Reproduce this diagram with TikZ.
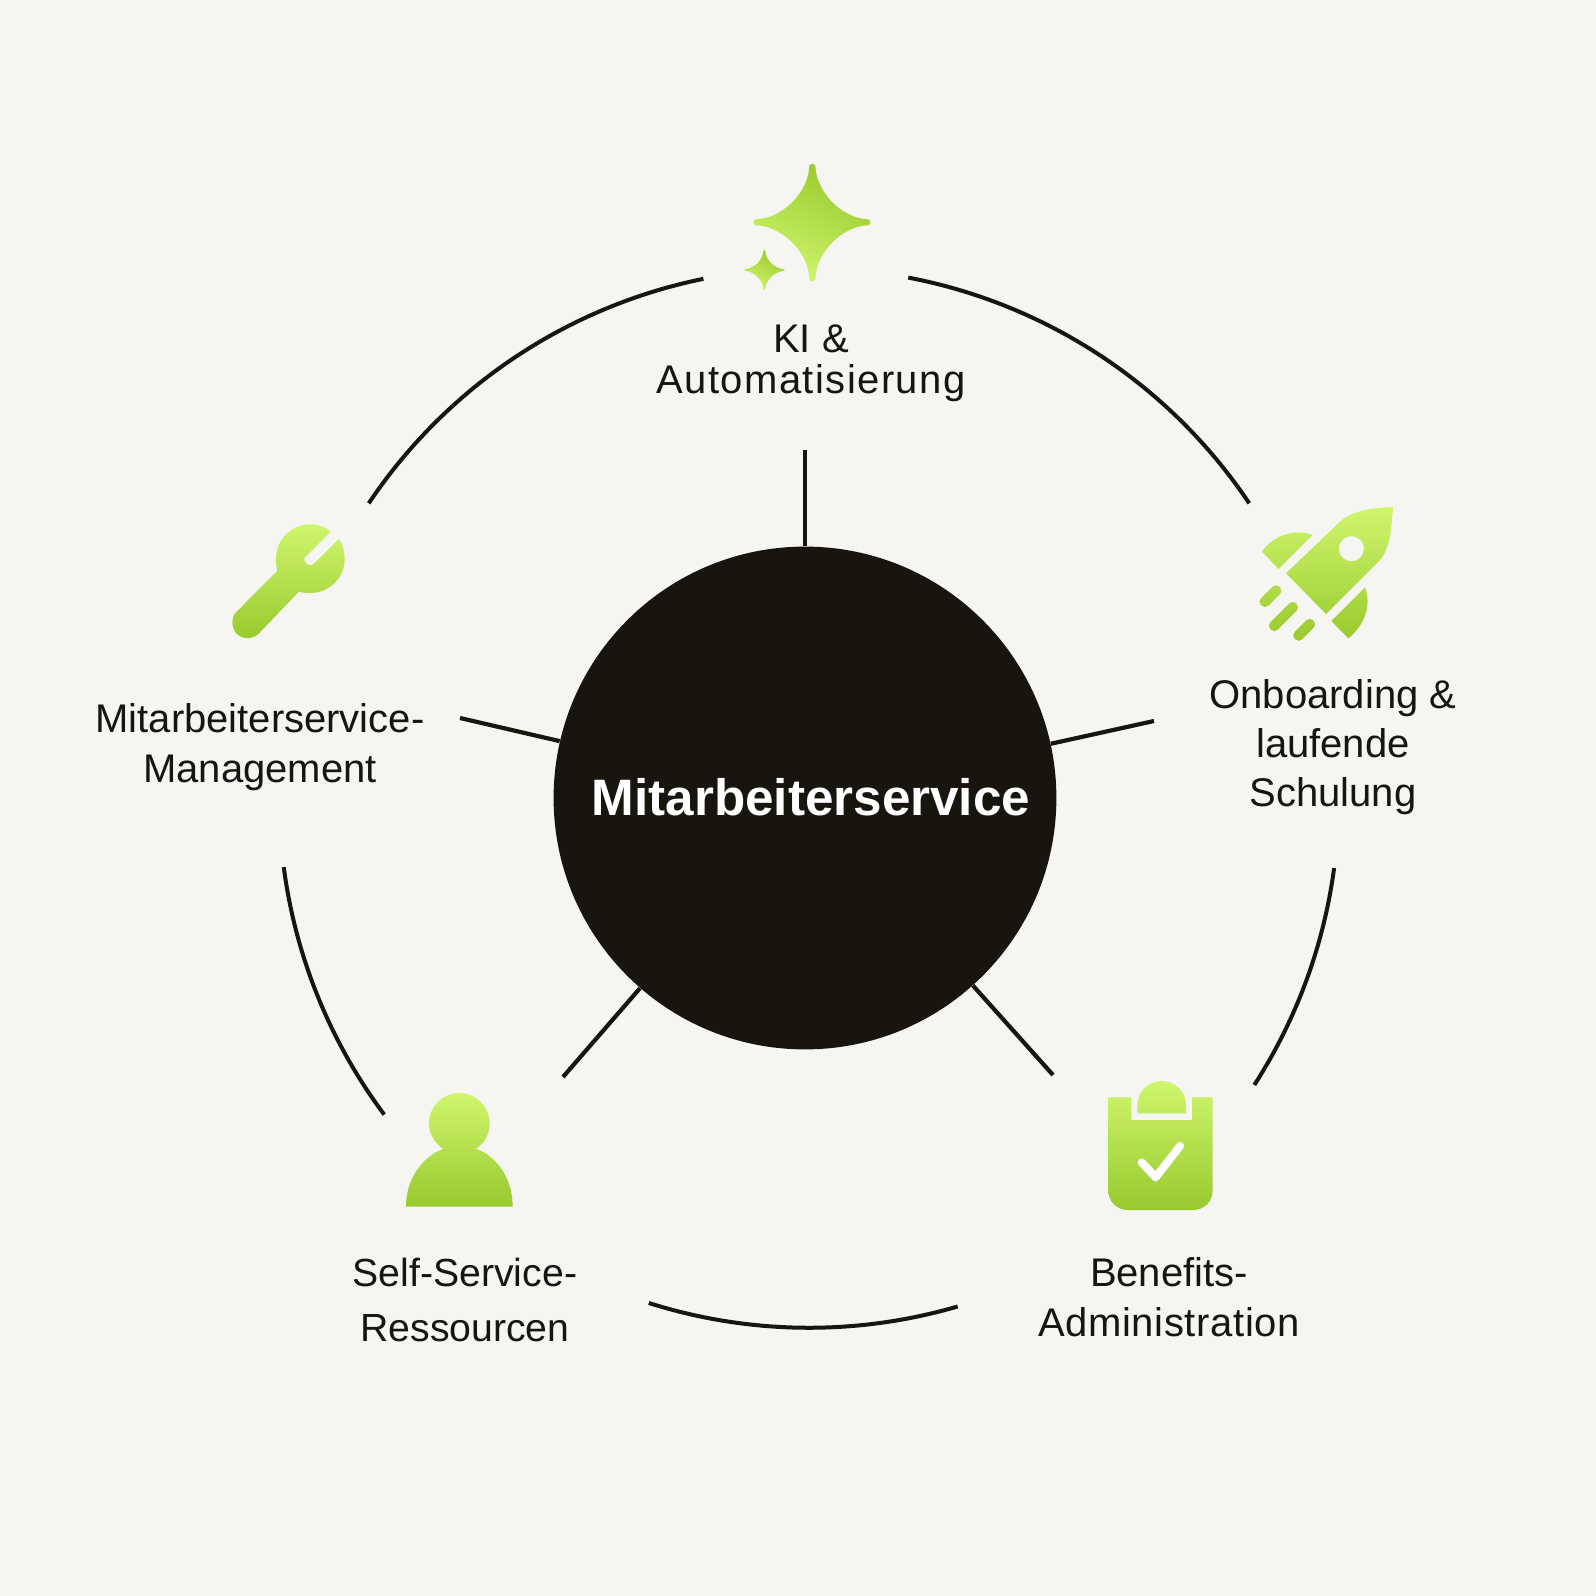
\documentclass[tikz,border=0pt]{standalone}
\usepackage{xcolor}
\usepackage{fontspec}
\setmainfont{Liberation Sans}
\definecolor{paper}{HTML}{F5F6F1}
\definecolor{ink}{HTML}{17150E}
\definecolor{limelight}{HTML}{CFF66E}
\definecolor{limedark}{HTML}{98C92D}
\tikzset{
  lbl/.style={align=center,text=ink,inner sep=0pt,font=\fontsize{20}{25}\selectfont},
  ringarc/.style={draw=ink,line width=2pt},
  spoke/.style={draw=ink,line width=2.1pt},
  icon/.style={top color=limelight,bottom color=limedark},
  iconstar/.style={top color=limedark,bottom color=limelight,shading angle=-25}
}
\begin{document}
\begin{tikzpicture}[x=0.5pt,y=0.5pt]
\fill[paper] (-805,-798) rectangle (791,798);
\useasboundingbox (-805,-798) rectangle (791,798);
\node[circle,fill=ink,inner sep=0pt,minimum size=251.4pt] (hub) at (0,0) {};
\node[text=white,inner sep=0pt,font=\fontsize{25.6}{30}\selectfont\bfseries] (hubtitle) at (6,1) {Mitarbeiterservice};
\coordinate (c) at (4,0);
\coordinate (s1) at (0,348);
\coordinate (s2) at (349,77);
\coordinate (s3) at (248,-277);
\coordinate (s4) at (-242,-279);
\coordinate (s5) at (-345,80);
\draw[spoke] (hub) -- (s1);
\draw[spoke] (hub) -- (s2);
\draw[spoke] (hub) -- (s3);
\draw[spoke] (hub) -- (s4);
\draw[spoke] (hub) -- (s5);
\draw[ringarc] ([shift={(c)}]146.2:529.8) arc[start angle=146.2,end angle=101.5,radius=529.8];
\draw[ringarc] ([shift={(c)}]79.2:529.8) arc[start angle=79.2,end angle=33.8,radius=529.8];
\draw[ringarc] ([shift={(c)}]-7.6:529.8) arc[start angle=-7.6,end angle=-32.8,radius=529.8];
\draw[ringarc] ([shift={(c)}]-73.7:529.8) arc[start angle=-73.7,end angle=-107.6,radius=529.8];
\draw[ringarc] ([shift={(c)}]216.7:529.8) arc[start angle=216.7,end angle=187.5,radius=529.8];
\node[lbl] (ki) at (6,435) {KI \&\\[-4.6pt]{\addfontfeature{LetterSpace=3.5}Automatisierung}};
\node[lbl] (onboarding) at (528,51) {Onboarding \&\\[-0.6pt]laufende\\[-0.6pt]Schulung};
\node[lbl] (benefits) at (364,-499) {Benefits-\\{\addfontfeature{LetterSpace=1.5}Administration}};
\node[lbl,font=\fontsize{19.6}{25}\selectfont] (selfservice) at (-340,-502) {Self-Service-\\[2.5pt]Ressourcen};
\node[lbl] (mgmt) at (-545,51) {Mitarbeiterservice-\\Management};
\begin{scope}[shift={(-85,648)},x=0.16667pt,y=-0.16667pt]
\shade[iconstar] (268,46) .. controls (272,39) and (282,39) .. (286,46) .. controls (288,128) and (367,205) .. (444,208) .. controls (454,210) and (454,224) .. (444,226) .. controls (367,229) and (288,306) .. (286,387) .. controls (282,397) and (272,397) .. (268,387) .. controls (266,306) and (187,229) .. (108,226) .. controls (98,224) and (98,210) .. (108,208) .. controls (187,205) and (266,128) .. (268,46) -- cycle;
\shade[iconstar] (130,304) .. controls (131,298) and (135,298) .. (136,304) .. controls (138,330) and (163,355) .. (190,357) .. controls (196,358) and (196,362) .. (190,363) .. controls (163,365) and (138,390) .. (136,416) .. controls (135,423) and (131,423) .. (130,416) .. controls (128,390) and (103,365) .. (77,363) .. controls (71,362) and (71,358) .. (77,357) .. controls (103,355) and (128,330) .. (130,304) -- cycle;
\end{scope}
\begin{scope}[shift={(435,308)},x=0.16667pt,y=-0.16667pt]
\shade[icon,even odd rule] (460,50) .. controls (395,55) and (340,60) .. (300,95) -- (138,250) -- (258,372) -- (420,210) .. controls (455,165) and (452,115) .. (460,50) -- cycle
  (334,176) circle[radius=38]
  (66,185) .. controls (100,135) and (165,115) .. (218,135) -- (116,237) -- cycle
  (375,292) .. controls (395,345) and (375,405) .. (325,445) -- (274,393) -- cycle
  [rounded corners=2.3pt] (108,280) -- (130,302) -- (75,357) -- (53,335) -- cycle
  (158,330) -- (180,352) -- (103,429) -- (81,407) -- cycle
  (209,381) -- (231,403) -- (176,458) -- (154,436) -- cycle;
\end{scope}
\begin{scope}[shift={(-590,288)},x=0.16667pt,y=-0.16667pt]
\shade[icon] (347,65) .. controls (330,50) and (308,43) .. (286,43) .. controls (229,43) and (183,89) .. (183,146) .. controls (183,158) and (184,171) .. (187,182) -- (65,305) .. controls (48,322) and (48,345) .. (62,368) .. controls (78,388) and (110,390) .. (130,372) -- (252,245) .. controls (263,248) and (275,249) .. (286,249) .. controls (343,249) and (389,203) .. (389,146) .. controls (389,124) and (383,104) .. (372,87) -- (298,160) .. controls (288,170) and (270,165) .. (268,150) .. controls (267,145) and (270,141) .. (272,140) -- cycle;
\end{scope}
\begin{scope}[shift={(285,-272)},x=0.16667pt,y=-0.16667pt]
\shade[icon] (55,82) -- (124,82) -- (124,150) -- (306,150) -- (306,82) -- (368,82) -- (368,360) .. controls (368,395) and (343,420) .. (308,420) -- (115,420) .. controls (80,420) and (55,395) .. (55,360) -- cycle
  (142,130) -- (142,105) .. controls (142,65) and (175,33) .. (215,33) .. controls (255,33) and (288,65) .. (288,105) -- (288,130) -- cycle;
\draw[white,line width=4pt,line cap=round,line join=round] (155,277) -- (197,322) -- (270,228);
\end{scope}
\begin{scope}[shift={(-415,-282)},x=0.16667pt,y=-0.16667pt]
\shade[icon] (48,380) .. controls (48,290) and (105,225) .. (160,207) .. controls (135,190) and (117,162) .. (117,130) .. controls (117,80) and (158,39) .. (208,39) .. controls (258,39) and (299,80) .. (299,130) .. controls (299,162) and (283,190) .. (258,207) .. controls (315,225) and (368,290) .. (368,380) -- cycle;
\end{scope}
\end{tikzpicture}
\end{document}
